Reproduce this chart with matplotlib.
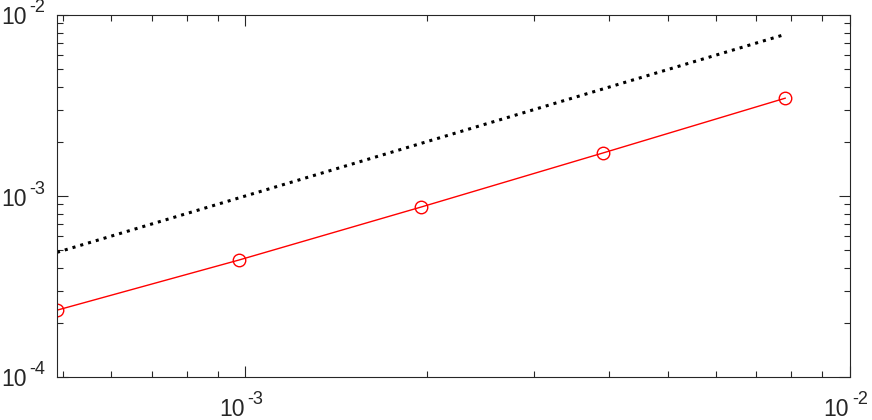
import numpy as np
import matplotlib
matplotlib.use("Agg")
import matplotlib.pyplot as plt
from matplotlib.ticker import LogLocator, NullFormatter

plt.rcParams['font.family'] = ['Liberation Sans', 'DejaVu Sans']

# mesh sizes and errors
h = [1/2048, 1/1024, 1/512, 1/256, 1/128]
err = [2.34e-4, 4.43e-4, 8.69e-4, 1.73e-3, 3.47e-3]
ref = [1/2048, 1/1024, 1/512, 1/256, 1/128]  # first-order reference line
xticks = [1e-3, 1e-2]
xexp = ['-3', '-2']
yticks = [1e-4, 1e-3, 1e-2]
yexp = ['-4', '-3', '-2']

fig = plt.figure(figsize=(8.72, 4.2), dpi=100)
ax = fig.add_axes([57/872, 43/420, 793/872, 362/420])

ax.loglog(ref, ref, ':', color='black', linewidth=2.2)
ax.loglog(h, err, '-o', color='red', linewidth=1.0, markersize=9,
          markerfacecolor='none', markeredgewidth=1.0)

ax.set_xlim(1/2048, 1e-2)
ax.set_ylim(1e-4, 1e-2)

axis_col = '#262626'
for s in ax.spines.values():
    s.set_color(axis_col)
    s.set_linewidth(0.8)
ax.xaxis.set_major_locator(LogLocator(base=10, numticks=10))
ax.yaxis.set_major_locator(LogLocator(base=10, numticks=10))
ax.xaxis.set_minor_locator(LogLocator(base=10, subs=np.arange(2, 10), numticks=20))
ax.yaxis.set_minor_locator(LogLocator(base=10, subs=np.arange(2, 10), numticks=20))
for a in (ax.xaxis, ax.yaxis):
    a.set_major_formatter(NullFormatter())
    a.set_minor_formatter(NullFormatter())
ax.tick_params(which='both', direction='in', top=True, right=True,
               color=axis_col, width=0.8)
ax.tick_params(which='major', length=8)
ax.tick_params(which='minor', length=4)

# MATLAB-style 10^n labels: base and raised exponent
base_fs, exp_fs = 16.5, 13
for t, e in zip(xticks, xexp):
    ax.annotate('10', xy=(t, 0), xycoords=('data', 'axes fraction'),
                xytext=(-1, -33), textcoords='offset pixels',
                ha='right', va='center', fontsize=base_fs, color=axis_col,
                annotation_clip=False)
    ax.annotate(e, xy=(t, 0), xycoords=('data', 'axes fraction'),
                xytext=(2, -23), textcoords='offset pixels',
                ha='left', va='center', fontsize=exp_fs, color=axis_col,
                annotation_clip=False)
for t, e in zip(yticks, yexp):
    ax.annotate('10', xy=(0, t), xycoords=('axes fraction', 'data'),
                xytext=(-30, -3), textcoords='offset pixels',
                ha='right', va='center', fontsize=base_fs, color=axis_col,
                annotation_clip=False)
    ax.annotate(e, xy=(0, t), xycoords=('axes fraction', 'data'),
                xytext=(-28, 7), textcoords='offset pixels',
                ha='left', va='center', fontsize=exp_fs, color=axis_col,
                annotation_clip=False)

fig.savefig('out.png', dpi=100)
